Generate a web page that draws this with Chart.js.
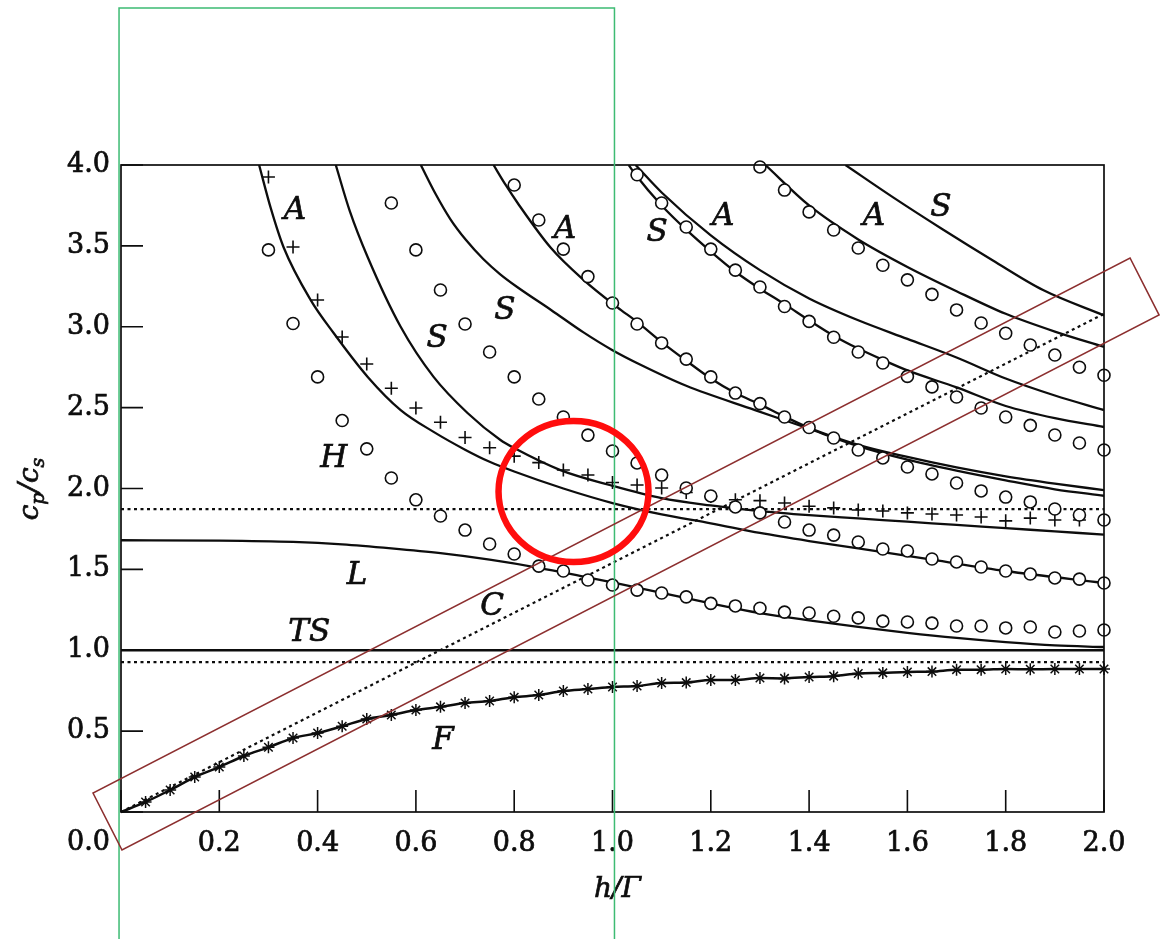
<!DOCTYPE html>
<html><head><meta charset="utf-8">
<script src="https://cdn.jsdelivr.net/npm/chart.js@4.4.1/dist/chart.umd.min.js"></script>
<style>html,body{margin:0;padding:0;background:#fff;}canvas{display:block;}</style>
</head><body>
<canvas id="c" width="1161" height="939"></canvas>
<script>
// ---------- axis ticks ----------
const xTickValues = [0, 0.2, 0.4, 0.6, 0.8, 1.0, 1.2, 1.4, 1.6, 1.8, 2.0];
const xTickLabels = ['', '0.2', '0.4', '0.6', '0.8', '1.0', '1.2', '1.4', '1.6', '1.8', '2.0'];
const yTickValues = [0, 0.5, 1.0, 1.5, 2.0, 2.5, 3.0, 3.5, 4.0];
const yTickLabels = ['', '0.5', '1.0', '1.5', '2.0', '2.5', '3.0', '3.5', '4.0'];
const originLabel = '0.0';
const xTitle = 'h/Γ';

// ---------- measured points ----------
const circ1X = [0.30,0.35,0.40,0.45,0.50,0.55,0.60,0.65,0.70,0.75,0.80,0.85,0.90,0.95,1.00,1.05,1.10,1.15,1.20,1.25,1.30,1.35,1.40,1.45,1.50,1.55,1.60,1.65,1.70,1.75,1.80,1.85,1.90,1.95,2.00];
const circ1Y = [3.475,3.02,2.69,2.42,2.245,2.065,1.93,1.83,1.743,1.657,1.595,1.52,1.49,1.434,1.403,1.372,1.354,1.33,1.29,1.274,1.26,1.236,1.23,1.21,1.20,1.18,1.175,1.168,1.15,1.15,1.138,1.144,1.113,1.119,1.125];

const circ2X = [0.55,0.60,0.65,0.70,0.75,0.80,0.85,0.90,0.95,1.00,1.05,1.10,1.15,1.20,1.25,1.30,1.35,1.40,1.45,1.50,1.55,1.60,1.65,1.70,1.75,1.80,1.85,1.90,1.95,2.00];
const circ2Y = [3.765,3.475,3.227,3.017,2.844,2.69,2.553,2.442,2.33,2.232,2.158,2.083,2.003,1.954,1.886,1.849,1.793,1.743,1.712,1.669,1.626,1.614,1.564,1.546,1.515,1.49,1.471,1.447,1.44,1.416];

const circ3X = [0.80,0.85,0.90,0.95,1.00,1.05,1.10,1.15,1.20,1.25,1.30,1.35,1.40,1.45,1.50,1.55,1.60,1.65,1.70,1.75,1.80,1.85,1.90,1.95,2.00];
const circ3Y = [3.876,3.66,3.48,3.31,3.147,3.017,2.90,2.80,2.69,2.59,2.525,2.442,2.377,2.312,2.238,2.189,2.133,2.09,2.034,1.985,1.947,1.917,1.873,1.836,1.805];

const circ4X = [1.05,1.10,1.15,1.20,1.25,1.30,1.35,1.40,1.45,1.50,1.55,1.60,1.65,1.70,1.75,1.80,1.85,1.90,1.95,2.00];
const circ4Y = [3.94,3.765,3.617,3.48,3.35,3.246,3.125,3.033,2.935,2.844,2.776,2.693,2.628,2.566,2.498,2.442,2.39,2.331,2.281,2.238];

const circ5X = [1.30,1.35,1.40,1.45,1.50,1.55,1.60,1.65,1.70,1.75,1.80,1.85,1.90,1.95,2.00];
const circ5Y = [3.988,3.845,3.71,3.598,3.487,3.38,3.29,3.20,3.104,3.023,2.96,2.887,2.825,2.75,2.70];

const plusX = [0.30,0.35,0.40,0.45,0.50,0.55,0.60,0.65,0.70,0.75,0.80,0.85,0.90,0.95,1.00,1.05,1.10,1.15,1.20,1.25,1.30,1.35,1.40,1.45,1.50,1.55,1.60,1.65,1.70,1.75,1.80,1.85,1.90,1.95];
const plusY = [3.926,3.493,3.165,2.937,2.77,2.62,2.498,2.41,2.315,2.252,2.20,2.16,2.114,2.083,2.037,2.022,2.003,1.975,1.95,1.93,1.925,1.91,1.89,1.88,1.867,1.861,1.849,1.842,1.836,1.824,1.80,1.817,1.805,1.805];

const starX = [0,0.05,0.10,0.15,0.20,0.25,0.30,0.35,0.40,0.45,0.50,0.55,0.60,0.65,0.70,0.75,0.80,0.85,0.90,0.95,1.00,1.05,1.10,1.15,1.20,1.25,1.30,1.35,1.40,1.45,1.50,1.55,1.60,1.65,1.70,1.75,1.80,1.85,1.90,1.95,2.00];
const starY = [0,0.062,0.136,0.216,0.278,0.346,0.40,0.457,0.488,0.53,0.575,0.60,0.63,0.65,0.674,0.686,0.71,0.723,0.748,0.76,0.773,0.779,0.797,0.80,0.816,0.816,0.828,0.826,0.835,0.84,0.856,0.86,0.866,0.868,0.88,0.88,0.884,0.882,0.884,0.884,0.884];

// ---------- theoretical curves ----------
const curveAX = [0.281,0.305,0.331,0.386,0.433,0.502,0.569,0.636,0.70,0.75,0.80,0.90,1.00,1.10,1.20,1.30,1.40,1.50,1.65,1.80,2.00];
const curveAY = [4.0,3.73,3.49,3.165,2.96,2.69,2.485,2.35,2.24,2.165,2.105,2.0,1.91,1.84,1.785,1.725,1.675,1.63,1.56,1.49,1.416];
const curveBX = [0.437,0.465,0.502,0.569,0.636,0.705,0.772,0.80,0.894,0.996,1.10,1.20,1.30,1.40,1.50,1.60,1.70,1.80,1.90,2.00];
const curveBY = [4.0,3.72,3.43,3.0,2.69,2.467,2.30,2.25,2.114,2.02,1.94,1.895,1.86,1.835,1.815,1.795,1.775,1.755,1.735,1.715];
const curveCX = [0.61,0.639,0.67,0.702,0.737,0.771,0.806,0.875,0.941,1.0,1.057,1.15,1.29,1.39,1.5,1.6,1.7,1.8,1.9,2.0];
const curveCY = [4.0,3.827,3.666,3.536,3.419,3.326,3.246,3.104,2.965,2.855,2.765,2.635,2.485,2.38,2.262,2.178,2.11,2.05,1.995,1.955];
const curveDX = [0.758,0.783,0.807,0.874,0.941,1.01,1.05,1.1,1.15,1.2,1.25,1.3,1.35,1.4,1.5,1.6,1.7,1.8,1.9,2.0];
const curveDY = [4.0,3.875,3.765,3.49,3.29,3.12,3.03,2.905,2.79,2.68,2.59,2.52,2.445,2.375,2.27,2.195,2.13,2.075,2.03,1.99];
const curveEX = [1.033,1.047,1.1,1.15,1.2,1.25,1.3,1.35,1.4,1.45,1.5,1.55,1.6,1.7,1.8,1.9,2.0];
const curveEY = [4.0,3.94,3.75,3.60,3.465,3.34,3.235,3.14,3.04,2.945,2.865,2.795,2.73,2.625,2.51,2.435,2.38];
const curveFX = [1.047,1.1,1.2,1.3,1.4,1.5,1.6,1.7,1.8,1.9,2.0];
const curveFY = [4.0,3.83,3.565,3.35,3.175,3.04,2.925,2.81,2.68,2.575,2.485];
const curveGX = [1.311,1.4,1.5,1.6,1.7,1.8,1.9,2.0];
const curveGY = [4.0,3.75,3.54,3.37,3.22,3.08,2.97,2.875];
const curveHX = [1.474,1.571,1.673,1.774,1.876,2.0];
const curveHY = [4.0,3.80,3.60,3.41,3.227,3.07];
const curveLX = [0,0.2,0.35,0.45,0.55,0.65,0.75,0.85,0.95,1.0,1.1,1.2,1.3,1.4,1.5,1.6,1.7,1.8,1.9,2.0];
const curveLY = [1.68,1.678,1.67,1.655,1.63,1.60,1.56,1.51,1.45,1.42,1.355,1.29,1.23,1.185,1.145,1.108,1.076,1.05,1.03,1.02];
const tsX = [0, 2.0];
const tsY = [1.0, 1.0];
const dotHighX = [0, 2.0];
const dotHighY = [1.873, 1.873];
const dotLowX = [0, 2.0];
const dotLowY = [0.927, 0.927];
const dotDiagX = [0, 2.0];
const dotDiagY = [0, 3.08];

// ---------- curve labels ----------
const modeLabels = ['A','H','S','S','A','S','A','A','S','L','TS','C','F'];
const modeLabelX = [0.354,0.433,0.643,0.781,0.903,1.091,1.225,1.532,1.668,0.480,0.383,0.755,0.655];
const modeLabelY = [3.734,2.201,2.943,3.116,3.617,3.598,3.697,3.697,3.753,1.478,1.125,1.286,0.457];

// ---------- highlight marks (data coords) ----------
const greenBoxX = [-0.004, 1.004];
const greenBoxTopY = 4.97;
const redRingCenter = [0.9207, 1.9815];
const redRingRadius = [0.1526, 0.436];
const brownBoxX = [-0.057, 0.002, 2.112, 2.053];
const brownBoxY = [0.1175, -0.235, 3.073, 3.425];

const pts = (xs, ys) => xs.map((v, i) => ({x: v, y: ys[i]}));
const INK = '#0d0d0d';

function curve(xs, ys, dash) {
  return { data: pts(xs, ys), showLine: true, pointRadius: 0, borderColor: INK,
    borderWidth: dash ? 2.2 : 2.3, borderDash: dash ? [3, 3.5] : [], fill: false,
    cubicInterpolationMode: 'monotone', order: 5 };
}
function marks(xs, ys, style, r) {
  return { data: pts(xs, ys), showLine: false, pointStyle: style, pointRadius: r,
    pointBorderColor: INK, pointBackgroundColor: '#fff', pointBorderWidth: 1.6,
    borderColor: INK, backgroundColor: '#fff', clip: false, order: 1 };
}

const datasets = [
  marks(circ1X, circ1Y, 'circle', 6),
  marks(circ2X, circ2Y, 'circle', 6),
  marks(circ3X, circ3Y, 'circle', 6),
  marks(circ4X, circ4Y, 'circle', 6),
  marks(circ5X, circ5Y, 'circle', 6),
  marks(plusX, plusY, 'cross', 6.5),
  { data: pts(starX, starY), showLine: true, borderColor: INK, borderWidth: 2.5,
    cubicInterpolationMode: 'monotone', pointStyle: 'star',
    pointRadius: ctx => ctx.dataIndex === 0 ? 0 : 6,
    pointBorderColor: INK, pointBorderWidth: 1.5, clip: false, order: 2 },
  curve(curveAX, curveAY), curve(curveBX, curveBY), curve(curveCX, curveCY),
  curve(curveDX, curveDY), curve(curveEX, curveEY), curve(curveFX, curveFY),
  curve(curveGX, curveGY), curve(curveHX, curveHY), curve(curveLX, curveLY),
  curve(tsX, tsY),
  curve(dotHighX, dotHighY, true), curve(dotLowX, dotLowY, true), curve(dotDiagX, dotDiagY, true)
];

function inkText(ctx, t, x, y) {
  ctx.lineWidth = 0.7;
  ctx.strokeStyle = INK;
  ctx.strokeText(t, x, y);
  ctx.fillText(t, x, y);
}

const framePlugin = {
  id: 'frame',
  afterDatasetsDraw(chart) {
    const {ctx, chartArea: a, scales: {x, y}} = chart;
    ctx.save();
    ctx.strokeStyle = INK;
    ctx.lineWidth = 1.7;
    ctx.strokeRect(a.left, a.top, a.right - a.left, a.bottom - a.top);
    ctx.lineWidth = 1.6;
    ctx.beginPath();
    xTickValues.forEach(v => { const px = x.getPixelForValue(v); ctx.moveTo(px, a.bottom); ctx.lineTo(px, a.bottom - 22); });
    yTickValues.forEach(v => { const py = y.getPixelForValue(v); ctx.moveTo(a.left, py); ctx.lineTo(a.left + 22, py); });
    ctx.stroke();

    ctx.fillStyle = INK;
    ctx.font = 'italic 31px "DejaVu Serif"';
    ctx.textAlign = 'center';
    ctx.textBaseline = 'alphabetic';
    modeLabels.forEach((t, i) => inkText(ctx, t, x.getPixelForValue(modeLabelX[i]), y.getPixelForValue(modeLabelY[i]) + 11));

    ctx.font = '27px "DejaVu Serif"';
    ctx.textAlign = 'right';
    inkText(ctx, originLabel, a.left - 11, a.bottom + 38);

    ctx.font = 'italic 28px "DejaVu Serif"';
    ctx.textAlign = 'center';
    inkText(ctx, xTitle, (a.left + a.right) / 2 + 5, 897);

    // y title c_p / c_s (rotated)
    ctx.save();
    ctx.translate(38, 489);
    ctx.rotate(-Math.PI / 2);
    const parts = [['c', 28, 0], ['p', 19, 6], ['/', 28, 0], ['c', 28, 0], ['s', 19, 6]];
    let total = 0;
    parts.forEach(p => { ctx.font = 'italic ' + p[1] + 'px "DejaVu Serif"'; total += ctx.measureText(p[0]).width; });
    let cx = -total / 2;
    ctx.textAlign = 'left';
    parts.forEach(p => { ctx.font = 'italic ' + p[1] + 'px "DejaVu Serif"'; inkText(ctx, p[0], cx, p[2]); cx += ctx.measureText(p[0]).width; });
    ctx.restore();
    ctx.restore();
  },
  afterDraw(chart) {
    const {ctx, scales: {x, y}} = chart;
    ctx.save();
    // green frame
    ctx.strokeStyle = '#3dbb73';
    ctx.lineWidth = 1.5;
    const gx0 = x.getPixelForValue(greenBoxX[0]), gx1 = x.getPixelForValue(greenBoxX[1]);
    const gy = y.getPixelForValue(greenBoxTopY);
    ctx.beginPath();
    ctx.moveTo(gx0, chart.height + 5); ctx.lineTo(gx0, gy); ctx.lineTo(gx1, gy); ctx.lineTo(gx1, chart.height + 5);
    ctx.stroke();
    // brown rotated box
    ctx.strokeStyle = '#8c2f2f';
    ctx.lineWidth = 1.6;
    ctx.beginPath();
    brownBoxX.forEach((v, i) => { const px = x.getPixelForValue(v), py = y.getPixelForValue(brownBoxY[i]); i ? ctx.lineTo(px, py) : ctx.moveTo(px, py); });
    ctx.closePath();
    ctx.stroke();
    // red ring
    const cxp = x.getPixelForValue(redRingCenter[0]), cyp = y.getPixelForValue(redRingCenter[1]);
    const rx = x.getPixelForValue(redRingCenter[0] + redRingRadius[0]) - cxp;
    const ry = cyp - y.getPixelForValue(redRingCenter[1] + redRingRadius[1]);
    ctx.strokeStyle = '#ff0d0d';
    ctx.lineWidth = 6.5;
    ctx.beginPath();
    ctx.ellipse(cxp, cyp, rx, ry, 0, 0, Math.PI * 2);
    ctx.stroke();
    ctx.restore();
  }
};

const tickFont = {family: 'DejaVu Serif', size: 27};
new Chart(document.getElementById('c'), {
  type: 'scatter',
  data: { datasets },
  options: {
    responsive: false, animation: false, devicePixelRatio: 1,
    layout: { padding: { left: 0, right: 57, top: 165, bottom: 0 } },
    plugins: { legend: { display: false }, tooltip: { enabled: false } },
    scales: {
      x: { type: 'linear', min: 0, max: 2,
        grid: { display: false, drawTicks: false }, border: { display: false },
        afterBuildTicks: s => { s.ticks = xTickValues.map(v => ({value: v})); },
        afterFit: s => { s.height = 127; },
        ticks: { callback: (v, i) => xTickLabels[i], font: tickFont, color: INK, padding: 16, maxRotation: 0, autoSkip: false,
          textStrokeColor: INK, textStrokeWidth: 0.7 } },
      y: { type: 'linear', min: 0, max: 4,
        grid: { display: false, drawTicks: false }, border: { display: false },
        afterBuildTicks: s => { s.ticks = yTickValues.map(v => ({value: v})); },
        afterFit: s => { s.width = 121; },
        ticks: { callback: (v, i) => yTickLabels[i], font: tickFont, color: INK, padding: 11, autoSkip: false,
          textStrokeColor: INK, textStrokeWidth: 0.7 } }
    }
  },
  plugins: [framePlugin]
});
</script>
</body></html>
